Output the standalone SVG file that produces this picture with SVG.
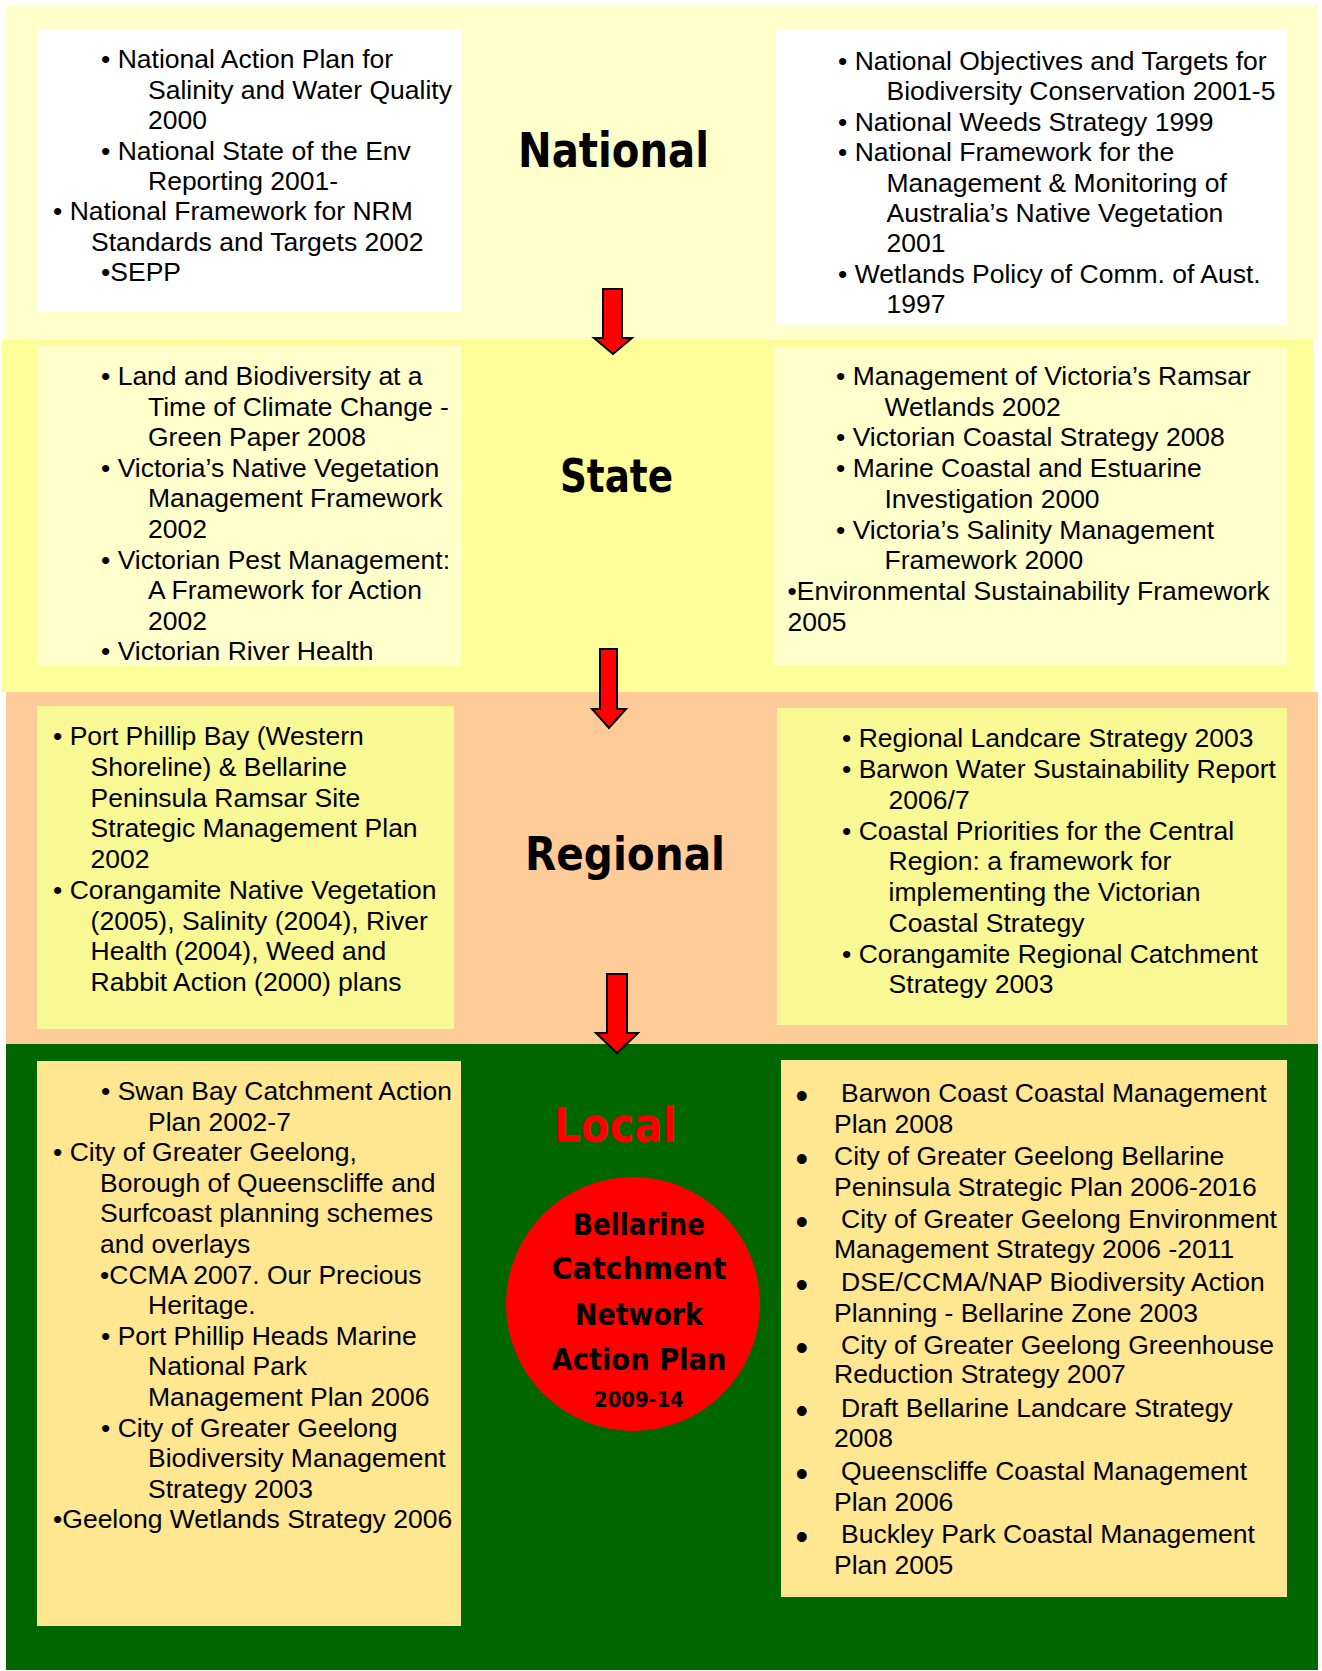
<svg xmlns="http://www.w3.org/2000/svg" width="1322" height="1671" viewBox="0 0 1322 1671">
<style>
.b{font-family:"Liberation Sans",Arial,sans-serif;font-size:26.5px;fill:#000}
.h{font-family:"DejaVu Sans",sans-serif;font-weight:bold;fill:#000}
.c{font-family:"DejaVu Sans",sans-serif;font-weight:bold;fill:#000;text-anchor:middle}
.bb{font-family:"Liberation Sans",Arial,sans-serif;font-size:36px;fill:#000}
.arrow{fill:#FF0000;stroke:#000;stroke-width:2;stroke-linejoin:miter}
</style>
<rect width="1322" height="1671" fill="#FFFFFF"/>
<g id="band-national"><rect x="6" y="6" width="1312" height="334" fill="#FFFFCC"/></g>
<g id="band-state"><rect x="2" y="340" width="1311" height="352" fill="#FFFF99"/></g>
<g id="band-regional"><rect x="6" y="692" width="1312" height="352" fill="#FFCC99"/></g>
<g id="band-local"><rect x="6" y="1044" width="1312" height="626" fill="#006600"/></g>

<g id="national-left">
<rect x="37" y="29" width="424" height="283" fill="#FFFFFF"/>
<text class="b">
<tspan x="101" y="68.3">• National Action Plan for</tspan>
<tspan x="148" y="98.7">Salinity and Water Quality</tspan>
<tspan x="148" y="129.1">2000</tspan>
<tspan x="101" y="159.5">• National State of the Env</tspan>
<tspan x="148" y="189.9">Reporting 2001-</tspan>
<tspan x="53" y="220.3">• National Framework for NRM</tspan>
<tspan x="91" y="250.7">Standards and Targets 2002</tspan>
<tspan x="101" y="281.1">•SEPP</tspan>
</text>
</g>
<g id="national-right">
<rect x="775" y="30" width="512" height="295" fill="#FFFFFF"/>
<text class="b">
<tspan x="838" y="70">• National Objectives and Targets for</tspan>
<tspan x="886.5" y="100.4">Biodiversity Conservation 2001-5</tspan>
<tspan x="838" y="130.8">• National Weeds Strategy 1999</tspan>
<tspan x="838" y="161.2">• National Framework for the</tspan>
<tspan x="886.5" y="191.6">Management &amp; Monitoring of</tspan>
<tspan x="886.5" y="222">Australia’s Native Vegetation</tspan>
<tspan x="886.5" y="252.4">2001</tspan>
<tspan x="838" y="282.8">• Wetlands Policy of Comm. of Aust.</tspan>
<tspan x="886.5" y="313.2">1997</tspan>
</text>
</g>
<g id="title-national"><text class="h" x="518" y="167" font-size="48" textLength="191" lengthAdjust="spacingAndGlyphs">National</text></g>

<g id="state-left">
<rect x="37" y="346" width="424" height="320" fill="#FFFFCC"/>
<text class="b">
<tspan x="101" y="385">• Land and Biodiversity at a</tspan>
<tspan x="148" y="415.6">Time of Climate Change -</tspan>
<tspan x="148" y="446.2">Green Paper 2008</tspan>
<tspan x="101" y="476.8">• Victoria’s Native Vegetation</tspan>
<tspan x="148" y="507.4">Management Framework</tspan>
<tspan x="148" y="538">2002</tspan>
<tspan x="101" y="568.6">• Victorian Pest Management:</tspan>
<tspan x="148" y="599.2">A Framework for Action</tspan>
<tspan x="148" y="629.8">2002</tspan>
<tspan x="101" y="660.4">• Victorian River Health</tspan>
</text>
</g>
<g id="state-right">
<rect x="773" y="347" width="514" height="318" fill="#FFFFCC"/>
<text class="b">
<tspan x="836" y="385">• Management of Victoria’s Ramsar</tspan>
<tspan x="884.5" y="415.7">Wetlands 2002</tspan>
<tspan x="836" y="446.4">• Victorian Coastal Strategy 2008</tspan>
<tspan x="836" y="477.1">• Marine Coastal and Estuarine</tspan>
<tspan x="884.5" y="507.8">Investigation 2000</tspan>
<tspan x="836" y="538.5">• Victoria’s Salinity Management</tspan>
<tspan x="884.5" y="569.2">Framework 2000</tspan>
<tspan x="787.5" y="599.9">•Environmental Sustainability Framework</tspan>
<tspan x="787.5" y="630.6">2005</tspan>
</text>
</g>
<g id="title-state"><text class="h" x="560" y="492" font-size="47" textLength="113" lengthAdjust="spacingAndGlyphs">State</text></g>

<g id="regional-left">
<rect x="37" y="706" width="417" height="323" fill="#F8F894"/>
<text class="b">
<tspan x="53" y="745">• Port Phillip Bay (Western</tspan>
<tspan x="90.6" y="775.75">Shoreline) &amp; Bellarine</tspan>
<tspan x="90.6" y="806.5">Peninsula Ramsar Site</tspan>
<tspan x="90.6" y="837.25">Strategic Management Plan</tspan>
<tspan x="90.6" y="868">2002</tspan>
<tspan x="53" y="898.75">• Corangamite Native Vegetation</tspan>
<tspan x="90.6" y="929.5">(2005), Salinity (2004), River</tspan>
<tspan x="90.6" y="960.25">Health (2004), Weed and</tspan>
<tspan x="90.6" y="991">Rabbit Action (2000) plans</tspan>
</text>
</g>
<g id="regional-right">
<rect x="777" y="708" width="510" height="317" fill="#F8F894"/>
<text class="b">
<tspan x="842" y="747.3">• Regional Landcare Strategy 2003</tspan>
<tspan x="842" y="778">• Barwon Water Sustainability Report</tspan>
<tspan x="888.6" y="808.8">2006/7</tspan>
<tspan x="842" y="839.5">• Coastal Priorities for the Central</tspan>
<tspan x="888.6" y="870.3">Region: a framework for</tspan>
<tspan x="888.6" y="901">implementing the Victorian</tspan>
<tspan x="888.6" y="931.8">Coastal Strategy</tspan>
<tspan x="842" y="962.5">• Corangamite Regional Catchment</tspan>
<tspan x="888.6" y="993.3">Strategy 2003</tspan>
</text>
</g>
<g id="title-regional"><text class="h" x="525" y="870" font-size="46" textLength="200" lengthAdjust="spacingAndGlyphs">Regional</text></g>

<g id="local-left">
<rect x="37" y="1061" width="424" height="565" fill="#FFE690"/>
<text class="b">
<tspan x="101" y="1100">• Swan Bay Catchment Action</tspan>
<tspan x="148" y="1130.6">Plan 2002-7</tspan>
<tspan x="53" y="1161.2">• City of Greater Geelong,</tspan>
<tspan x="100" y="1191.8">Borough of Queenscliffe and</tspan>
<tspan x="100" y="1222.4">Surfcoast planning schemes</tspan>
<tspan x="100" y="1253">and overlays</tspan>
<tspan x="100" y="1283.6">•CCMA 2007. Our Precious</tspan>
<tspan x="148" y="1314.2">Heritage.</tspan>
<tspan x="101" y="1344.8">• Port Phillip Heads Marine</tspan>
<tspan x="148" y="1375.4">National Park</tspan>
<tspan x="148" y="1406">Management Plan 2006</tspan>
<tspan x="101" y="1436.6">• City of Greater Geelong</tspan>
<tspan x="148" y="1467.2">Biodiversity Management</tspan>
<tspan x="148" y="1497.8">Strategy 2003</tspan>
<tspan x="53" y="1528.4">•Geelong Wetlands Strategy 2006</tspan>
</text>
</g>
<g id="local-right">
<rect x="781" y="1060" width="506" height="537" fill="#FFE690"/>
<text class="bb">
<tspan x="795.5" y="1107.7">•</tspan>
<tspan x="795.5" y="1171">•</tspan>
<tspan x="795.5" y="1234.3">•</tspan>
<tspan x="795.5" y="1297">•</tspan>
<tspan x="795.5" y="1360.3">•</tspan>
<tspan x="795.5" y="1422.7">•</tspan>
<tspan x="795.5" y="1486">•</tspan>
<tspan x="795.5" y="1549.3">•</tspan>
</text>
<text class="b">
<tspan x="841" y="1101.7">Barwon Coast Coastal Management</tspan>
<tspan x="834" y="1132.7">Plan 2008</tspan>
<tspan x="834" y="1165">City of Greater Geelong Bellarine</tspan>
<tspan x="834" y="1196">Peninsula Strategic Plan 2006-2016</tspan>
<tspan x="841" y="1228.3">City of Greater Geelong Environment</tspan>
<tspan x="834" y="1258.3">Management Strategy 2006 -2011</tspan>
<tspan x="841" y="1291">DSE/CCMA/NAP Biodiversity Action</tspan>
<tspan x="834" y="1321.7">Planning - Bellarine Zone 2003</tspan>
<tspan x="841" y="1354.3">City of Greater Geelong Greenhouse</tspan>
<tspan x="834" y="1383.3">Reduction Strategy 2007</tspan>
<tspan x="841" y="1416.7">Draft Bellarine Landcare Strategy</tspan>
<tspan x="834" y="1447.3">2008</tspan>
<tspan x="841" y="1480">Queenscliffe Coastal Management</tspan>
<tspan x="834" y="1510.7">Plan 2006</tspan>
<tspan x="841" y="1543.3">Buckley Park Coastal Management</tspan>
<tspan x="834" y="1574">Plan 2005</tspan>
</text>
</g>
<g id="title-local"><text class="h" x="554" y="1142" font-size="48" textLength="123" lengthAdjust="spacingAndGlyphs" style="fill:#FF0000">Local</text></g>

<g id="plan-circle">
<circle cx="633" cy="1304" r="127" fill="#FF0000"/>
<text class="c" x="639" y="1235" font-size="30" textLength="132" lengthAdjust="spacingAndGlyphs">Bellarine</text>
<text class="c" x="639" y="1279" font-size="30" textLength="175" lengthAdjust="spacingAndGlyphs">Catchment</text>
<text class="c" x="639" y="1325" font-size="30" textLength="128" lengthAdjust="spacingAndGlyphs">Network</text>
<text class="c" x="639" y="1370" font-size="30" textLength="175" lengthAdjust="spacingAndGlyphs">Action Plan</text>
<text class="c" x="639" y="1407" font-size="22" textLength="90" lengthAdjust="spacingAndGlyphs">2009-14</text>
</g>

<g id="connectors">
<path class="arrow" d="M603,289 H622 V338 H632 L613,354 L594,338 H603 Z"/>
<path class="arrow" d="M600,649 H617 V709 H626 L609,728 L592,709 H600 Z"/>
<path class="arrow" d="M607,974 H627 V1033 H638 L617,1053 L596,1033 H607 Z"/>
</g>
</svg>
